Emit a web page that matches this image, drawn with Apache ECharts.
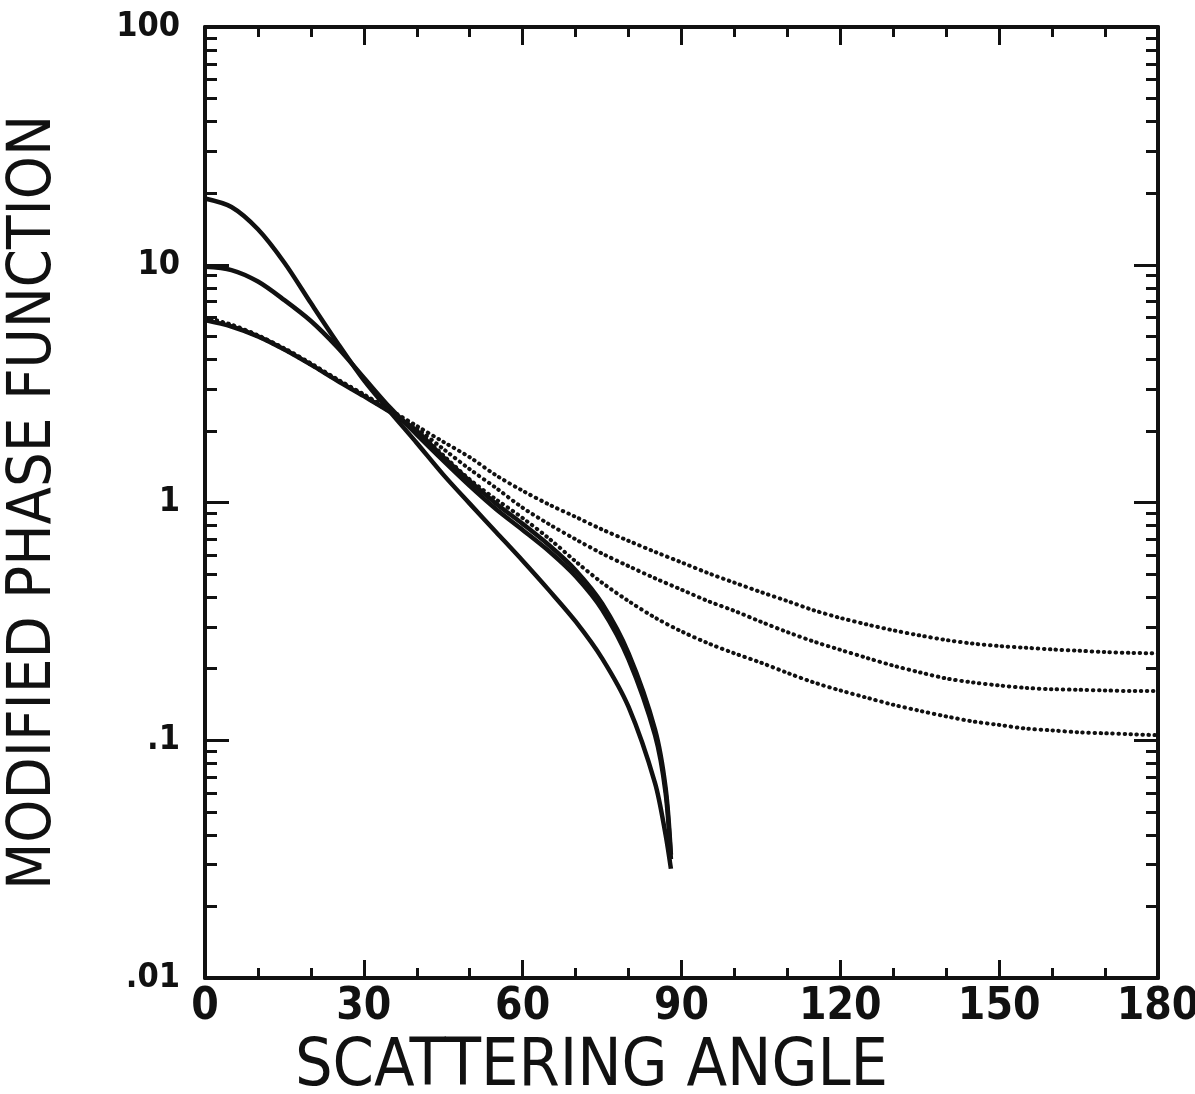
<!DOCTYPE html>
<html>
<head>
<meta charset="utf-8">
<script src="https://cdn.jsdelivr.net/npm/echarts@6/dist/echarts.min.js"></script>
<style>
  html, body { margin: 0; padding: 0; background: #fff; }
  #chart { width: 1195px; height: 1094px; }
</style>
</head>
<body>
<div id="chart"></div>
<script>
// ========== data ==========
const solidAngles = [0, 5, 10, 15, 20, 25, 30, 35, 40, 45, 50, 55, 60, 65, 70, 75, 80, 85, 87, 88];
const solidA = [19, 17.5, 14.1, 10.2, 6.9, 4.7, 3.27, 2.4, 1.78, 1.31, 0.989, 0.75, 0.569, 0.427, 0.316, 0.221, 0.138, 0.066, 0.04, 0.0288];
const solidB = [9.8, 9.5, 8.5, 7.1, 5.8, 4.5, 3.35, 2.5, 1.93, 1.5, 1.175, 0.937, 0.767, 0.624, 0.49, 0.355, 0.219, 0.105, 0.06, 0.0316];
const solidC = [5.85, 5.5, 5.0, 4.4, 3.8, 3.25, 2.8, 2.4, 2.0, 1.55, 1.23, 0.989, 0.813, 0.661, 0.519, 0.376, 0.232, 0.111, 0.063, 0.033];

const dotAngles = [0, 5, 10, 15, 20, 25, 30, 35, 40, 45, 50, 55, 60, 65, 70, 75, 80, 85, 90,
  95, 100, 105, 110, 115, 120, 125, 130, 135, 140, 145, 150, 155, 160, 165, 170, 175, 180];
const dotTop = [6.0, 5.6, 5.05, 4.45, 3.85, 3.3, 2.85, 2.45, 2.1, 1.8, 1.55, 1.3, 1.12, 0.98, 0.87, 0.77, 0.69, 0.62, 0.56,
  0.505, 0.46, 0.42, 0.385, 0.352, 0.327, 0.307, 0.29, 0.276, 0.264, 0.255, 0.249, 0.245, 0.241, 0.238, 0.235, 0.233, 0.232];
const dotMid = [5.95, 5.55, 5.02, 4.42, 3.82, 3.28, 2.83, 2.42, 2.05, 1.68, 1.38, 1.15, 0.95, 0.81, 0.70, 0.61, 0.54, 0.48, 0.43,
  0.385, 0.35, 0.315, 0.285, 0.26, 0.24, 0.222, 0.206, 0.193, 0.182, 0.175, 0.17, 0.166, 0.164, 0.163, 0.162, 0.161, 0.161];
const dotLow = [5.9, 5.52, 5.0, 4.4, 3.8, 3.26, 2.81, 2.4, 2.02, 1.58, 1.25, 1.03, 0.86, 0.705, 0.565, 0.46, 0.385, 0.328, 0.287,
  0.256, 0.232, 0.212, 0.192, 0.175, 0.162, 0.151, 0.141, 0.133, 0.126, 0.12, 0.116, 0.112, 0.11, 0.108, 0.107, 0.106, 0.105];

const yMajorTicks = [0.01, 0.1, 1, 10, 100];
const yMinorTicks = [0.02, 0.03, 0.04, 0.05, 0.06, 0.07, 0.08, 0.09,
  0.2, 0.3, 0.4, 0.5, 0.6, 0.7, 0.8, 0.9,
  2, 3, 4, 5, 6, 7, 8, 9,
  20, 30, 40, 50, 60, 70, 80, 90];
const yTickText = { 0.01: ".01", 0.1: ".1", 1: "1", 10: "10", 100: "100" };

// ========== chart ==========
const INK = "#111";
const FONT = "'Liberation Sans Narrow', 'DejaVu Sans Condensed', 'DejaVu Sans', sans-serif";
const chart = echarts.init(document.getElementById("chart"));

const zip = (xs, ys) => xs.map((x, i) => [x, ys[i]]);

function xAxisDef(position, withLabels) {
  return {
    type: "value",
    position: position,
    min: 0,
    max: 180,
    interval: 30,
    axisLine: { show: true, lineStyle: { color: INK, width: 4 } },
    axisTick: { show: true, inside: true, length: 18, lineStyle: { color: INK, width: 3 } },
    minorTick: { show: true, splitNumber: 3, length: 10, lineStyle: { color: INK, width: 3 } },
    splitLine: { show: false },
    axisLabel: {
      show: withLabels,
      margin: 8,
      color: INK,
      fontFamily: FONT,
      fontWeight: "bold",
      fontSize: 44
    },
    name: withLabels ? "SCATTERING ANGLE" : "",
    nameLocation: "middle",
    nameGap: 52,
    nameTextStyle: {
      color: INK,
      fontFamily: FONT,
      fontSize: 66,
      padding: [0, 180, 0, 0]
    }
  };
}

function yAxisDef(position, major, withLabels) {
  return {
    type: "log",
    logBase: 10,
    position: position,
    min: 0.01,
    max: 100,
    axisLine: { show: major, lineStyle: { color: INK, width: 4 } },
    axisTick: {
      show: true,
      inside: true,
      length: major ? 24 : 12,
      customValues: major ? yMajorTicks : yMinorTicks,
      lineStyle: { color: INK, width: 3 }
    },
    splitLine: { show: false },
    minorTick: { show: false },
    axisLabel: {
      show: withLabels,
      customValues: yMajorTicks,
      margin: 25,
      color: INK,
      fontFamily: FONT,
      fontWeight: "bold",
      fontSize: 34,
      formatter: (v) => yTickText[v] || String(v)
    },
    name: withLabels ? "MODIFIED PHASE FUNCTION" : "",
    nameLocation: "middle",
    nameGap: 140,
    nameTextStyle: { color: INK, fontFamily: FONT, fontSize: 61 }
  };
}

function solidSeries(data) {
  return {
    type: "line",
    data: data,
    xAxisIndex: 0,
    yAxisIndex: 0,
    showSymbol: false,
    smooth: 0.3,
    lineStyle: { color: INK, width: 4.5, join: "round" },
    silent: true
  };
}

function dottedSeries(data) {
  return {
    type: "line",
    data: data,
    xAxisIndex: 0,
    yAxisIndex: 0,
    showSymbol: false,
    smooth: 0.3,
    lineStyle: { color: INK, width: 4, type: [0.5, 5.5], cap: "round" },
    silent: true
  };
}

chart.setOption({
  animation: false,
  backgroundColor: "#fff",
  grid: { left: 205, right: 37, top: 27, bottom: 116, outerBoundsMode: "none" },
  xAxis: [xAxisDef("bottom", true), xAxisDef("top", false)],
  yAxis: [
    yAxisDef("left", true, true),
    yAxisDef("left", false, false),
    yAxisDef("right", true, false),
    yAxisDef("right", false, false)
  ],
  series: [
    solidSeries(zip(solidAngles, solidA)),
    solidSeries(zip(solidAngles, solidB)),
    solidSeries(zip(solidAngles, solidC)),
    dottedSeries(zip(dotAngles, dotTop)),
    dottedSeries(zip(dotAngles, dotMid)),
    dottedSeries(zip(dotAngles, dotLow))
  ]
});
</script>
</body>
</html>
